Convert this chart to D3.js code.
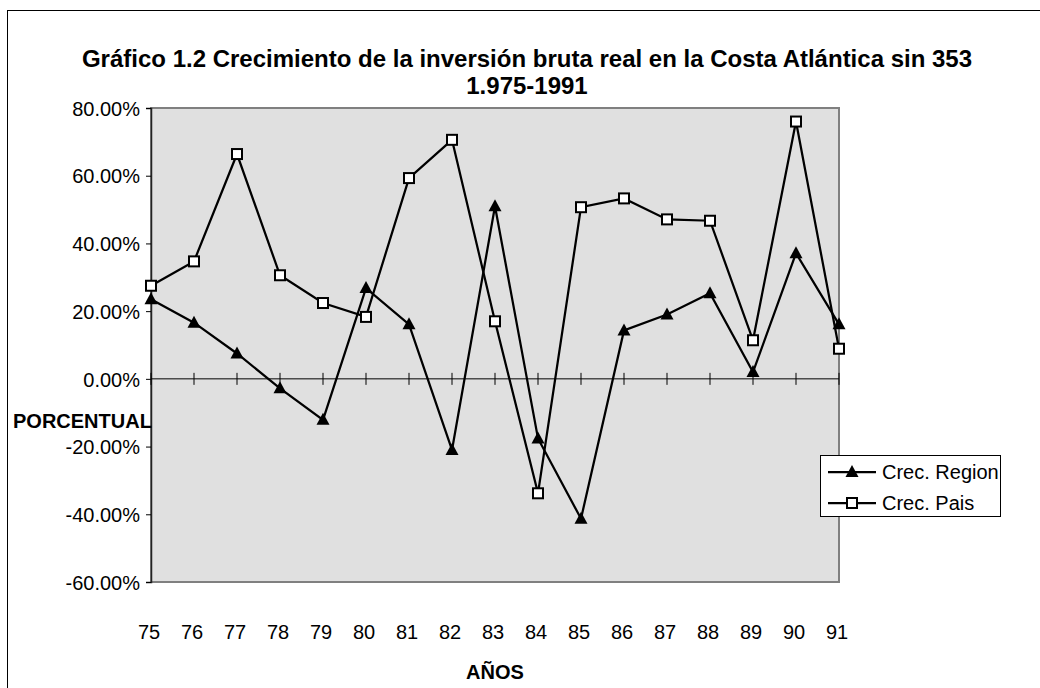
<!DOCTYPE html>
<html>
<head>
<meta charset="utf-8">
<script src="https://cdn.jsdelivr.net/npm/d3@7"></script>
<style>
  body { margin: 0; background: #fff; }
  svg text { font-family: "Liberation Sans", Arial, sans-serif; fill: #000; }
</style>
</head>
<body>
<div id="chart"></div>
<script>
// data (percent)
const years = ["75","76","77","78","79","80","81","82","83","84","85","86","87","88","89","90","91"];
const crecRegion = [23.5, 16.6, 7.5, -2.8, -12.1, 26.8, 16.1, -21.0, 51.0, -17.6, -41.3, 14.3, 19.0, 25.3, 2.0, 37.1, 16.1];
const crecPais = [27.5, 34.7, 66.4, 30.6, 22.4, 18.3, 59.3, 70.6, 17.0, -33.8, 50.7, 53.3, 47.1, 46.7, 11.4, 76.0, 8.9];
const yTicks = [-60, -40, -20, 0, 20, 40, 60, 80];
const seriesNames = ["Crec. Region", "Crec. Pais"];

const width = 1040, height = 688;
const plot = {left: 151, right: 839, top: 108, bottom: 582};

const svg = d3.select("#chart").append("svg").attr("width",width).attr("height",height);

// outer chart frame (runs off the right and bottom)
svg.append("rect").attr("x",7.5).attr("y",10.5).attr("width",1100).attr("height",800)
    .attr("fill","none").attr("stroke","#000").attr("stroke-width",1);

const x = d3.scalePoint().domain(years).range([plot.left, plot.right]);
const y = d3.scaleLinear().domain([-60, 80]).range([plot.bottom, plot.top]);

// plot area
svg.append("rect").attr("x",plot.left).attr("y",plot.top)
    .attr("width",plot.right-plot.left).attr("height",plot.bottom-plot.top)
    .attr("fill","#e0e0e0").attr("stroke","#808080").attr("stroke-width",2);

// y axis
const yAxis = svg.append("g").attr("transform",`translate(${plot.left},0)`)
    .call(d3.axisLeft(y).tickValues(yTicks).tickSize(5).tickPadding(6)
        .tickFormat(d => d.toFixed(2)+"%"));
yAxis.select(".domain").attr("stroke","#222").attr("stroke-width",1.5);
yAxis.selectAll(".tick line").attr("stroke","#000");
yAxis.selectAll("text").attr("font-size",20).attr("font-family",null).attr("dy","0.36em");

// x axis line at zero with crossing ticks
const xAxisG = svg.append("g");
xAxisG.append("line").attr("x1",plot.left).attr("x2",plot.right)
    .attr("y1",y(0)).attr("y2",y(0)).attr("stroke","#000").attr("stroke-width",1);
xAxisG.selectAll(".xt").data(years).enter().append("line")
    .attr("x1",d => x(d)).attr("x2",d => x(d))
    .attr("y1",y(0)-6).attr("y2",y(0)+6).attr("stroke","#000").attr("stroke-width",1);

// x tick labels below the plot
svg.selectAll(".xl").data(years).enter().append("text")
    .attr("x",d => x(d)-2).attr("y",639).attr("text-anchor","middle")
    .attr("font-size",20).text(d => d);

// lines
const line = d3.line().x((d,i) => x(years[i])).y(d => y(d));
svg.append("path").datum(crecRegion).attr("d",line)
    .attr("fill","none").attr("stroke","#000").attr("stroke-width",2.25);
svg.append("path").datum(crecPais).attr("d",line)
    .attr("fill","none").attr("stroke","#000").attr("stroke-width",2.25);

const triPath = "M0,-7L6.5,5L-6.5,5Z";
function drawTri(sel) {
    return sel.append("path").attr("d",triPath).attr("fill","#000");
}
function drawSq(sel) {
    return sel.append("rect").attr("x",-5).attr("y",-5).attr("width",10).attr("height",10)
        .attr("fill","#fff").attr("stroke","#000").attr("stroke-width",2);
}

svg.selectAll(".tri").data(crecRegion).enter().append("g")
    .attr("transform",(d,i) => `translate(${x(years[i])},${y(d)})`)
    .call(drawTri);
svg.selectAll(".sq").data(crecPais).enter().append("g")
    .attr("transform",(d,i) => `translate(${x(years[i])},${y(d)})`)
    .call(drawSq);

// title
svg.append("text").attr("x",527).attr("y",67).attr("text-anchor","middle")
    .attr("font-size",24).attr("font-weight","bold")
    .text("Gráfico 1.2 Crecimiento de la inversión bruta real en la Costa Atlántica sin 353");
svg.append("text").attr("x",527).attr("y",94).attr("text-anchor","middle")
    .attr("font-size",24).attr("font-weight","bold").text("1.975-1991");

// axis titles
svg.append("text").attr("x",13).attr("y",428).attr("font-size",20).attr("font-weight","bold")
    .text("PORCENTUAL");
svg.append("text").attr("x",(plot.left+plot.right)/2).attr("y",679).attr("text-anchor","middle")
    .attr("font-size",20).attr("font-weight","bold").text("AÑOS");

// legend
const legend = svg.append("g");
legend.append("rect").attr("x",820.5).attr("y",455.5).attr("width",180).attr("height",61)
    .attr("fill","#fff").attr("stroke","#000").attr("stroke-width",1);
const entries = legend.selectAll(".le").data(seriesNames).enter().append("g")
    .attr("transform",(d,i) => `translate(0,${472+i*31})`);
entries.append("line").attr("x1",828).attr("x2",876).attr("y1",0).attr("y2",0)
    .attr("stroke","#000").attr("stroke-width",2.25);
entries.each(function(d,i) {
    const g = d3.select(this).append("g").attr("transform","translate(852,0)");
    if(i===0) drawTri(g); else drawSq(g);
});
entries.append("text").attr("x",882).attr("y",0).attr("dy","0.36em")
    .attr("font-size",20).text(d => d);
</script>
</body>
</html>
